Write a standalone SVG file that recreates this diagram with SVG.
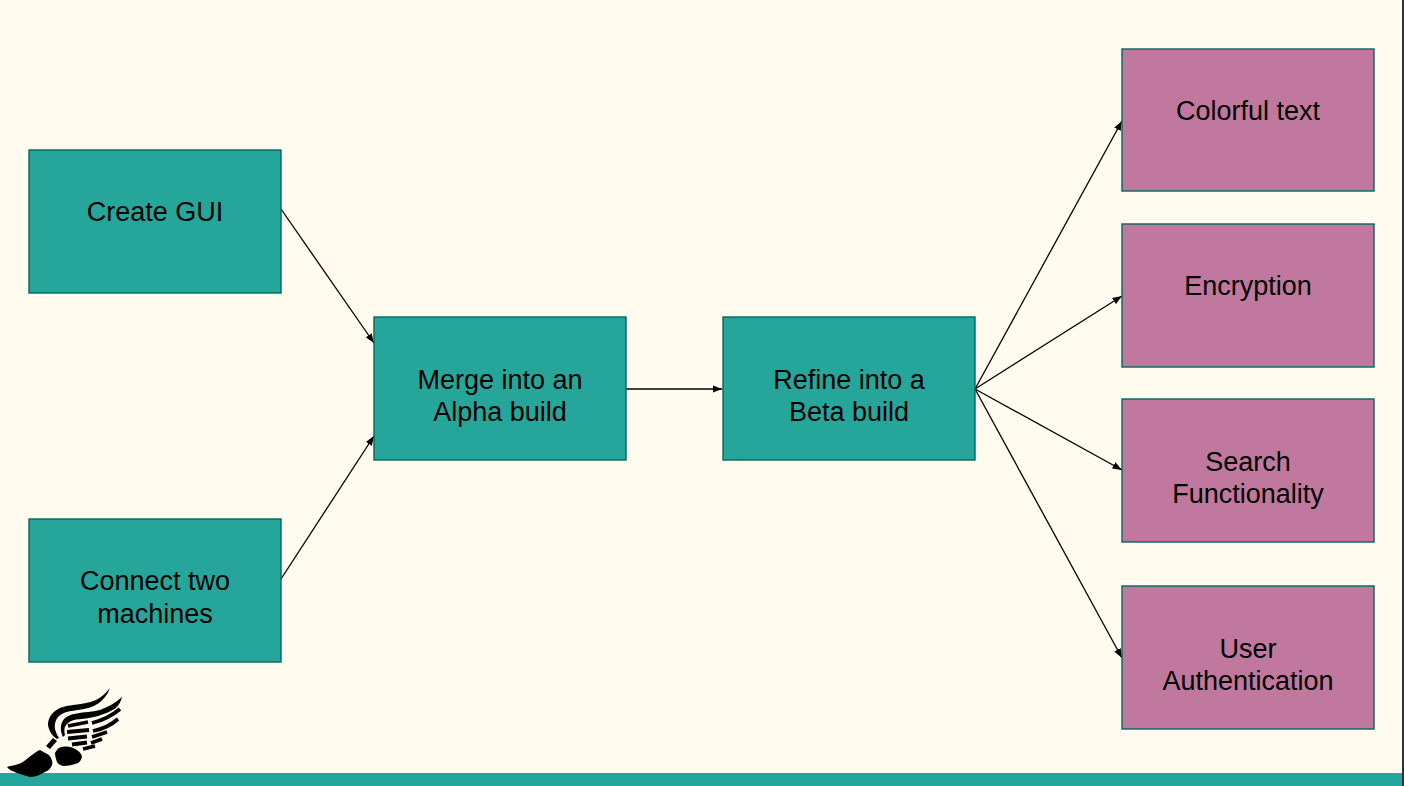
<svg xmlns="http://www.w3.org/2000/svg" width="1404" height="786" viewBox="0 0 1404 786">
<style>
.n{stroke:#00695c;stroke-width:1.4}
.t{fill:#26a69a}
.p{fill:#c0789f}
text{font-family:"Liberation Sans",Arial,sans-serif;font-size:27px;fill:#000;text-anchor:middle}
.c{stroke:#000;stroke-width:1.3;fill:none;marker-end:url(#a)}
.f{stroke:#000;stroke-width:3.8;fill:none;stroke-linecap:butt}
</style>
<defs><marker id="a" markerUnits="userSpaceOnUse" markerWidth="10" markerHeight="8" refX="9.5" refY="4" orient="auto"><path d="M0 .4L9.5 4L0 7.6z" fill="#000"/></marker></defs>
<rect width="1404" height="786" fill="#fffbef"/>
<rect x="0" y="773" width="1404" height="13" fill="#26a69a"/>
<rect x="1402" y="0" width="2" height="786" fill="#2f3042"/>
<g id="connectors">
<path class="c" d="M281 209L374 343"/>
<path class="c" d="M281 579L374 436"/>
<path class="c" d="M626 389H722"/>
<path class="c" d="M975 389L1122 121"/>
<path class="c" d="M975 389L1122 296"/>
<path class="c" d="M975 389L1122 470"/>
<path class="c" d="M975 389L1122 658"/>
</g>
<g id="create-gui"><rect class="n t" x="29" y="150" width="252" height="143"/><text x="155" y="221">Create GUI</text></g>
<g id="connect-machines"><rect class="n t" x="29" y="519" width="252" height="143"/><text x="155" y="590">Connect two</text><text x="155" y="623">machines</text></g>
<g id="alpha"><rect class="n t" x="374" y="317" width="252" height="143"/><text x="500" y="389">Merge into an</text><text x="500" y="421">Alpha build</text></g>
<g id="beta"><rect class="n t" x="723" y="317" width="252" height="143"/><text x="849" y="389">Refine into a</text><text x="849" y="421">Beta build</text></g>
<g id="colorful"><rect class="n p" x="1122" y="49" width="252" height="142"/><text x="1248" y="120">Colorful text</text></g>
<g id="encryption"><rect class="n p" x="1122" y="224" width="252" height="143"/><text x="1248" y="295">Encryption</text></g>
<g id="search"><rect class="n p" x="1122" y="399" width="252" height="143"/><text x="1248" y="471">Search</text><text x="1248" y="503">Functionality</text></g>
<g id="auth"><rect class="n p" x="1122" y="586" width="252" height="143"/><text x="1248" y="658">User</text><text x="1248" y="690">Authentication</text></g>
<g id="logo" fill="#000">
<path d="M7 767C12 765 20 766 28 758C33 754 37 751 40 750L49 755C52 759 53 762 52 765C50 770 47 771 43 773C38 776 33 777 30 777C25 776 21 774 17 773C13 771 9 770 7 767Z"/>
<path d="M55 753C57 749 59 747 62 747C67 746 72 747 75 749C79 751 82 754 82 757C81 760 80 762 78 763C73 765 68 766 63 766C60 765 58 764 57 762C56 759 55 756 55 753Z"/>
<path d="M46 746L53 738L57 741L50 749Z"/>
<path d="M110 688C106 693 102 697 96 700C89 703 81 704 73 705C66 706 60 707 55 711C50 715 48 720 48 725C49 731 52 736 57 739L59 738C56 733 54 728 55 724C56 719 58 716 62 714C67 711 72 711 78 710C86 709 93 707 99 703C104 699 108 694 110 688Z"/>
<path d="M122 697C115 703 108 707 100 710C92 712 84 712 77 713.500C71 714.500 67 716 64 719C60 724 60 731 63 737L65 735C64 731 64 728 66 725C69 722 72 720 76 719.500C84 719 91 718 98 716C105 714 111 711 116 708C119 705 121 701 122 697Z"/>
<path class="f" d="M68 726L88 722"/>
<path class="f" d="M92 723Q108 719 120 709"/>
<path class="f" d="M67 732L89 730"/>
<path class="f" d="M93 731Q108 728 118 719"/>
<path class="f" d="M68 738.500L87 736.500"/>
<path class="f" d="M92 737L107 732"/>
<path class="f" d="M72 744.500L87 742.500"/>
<path class="f" d="M91 743L102 739"/>
<path class="f" d="M83 749L95 746"/>
</g>
</svg>
